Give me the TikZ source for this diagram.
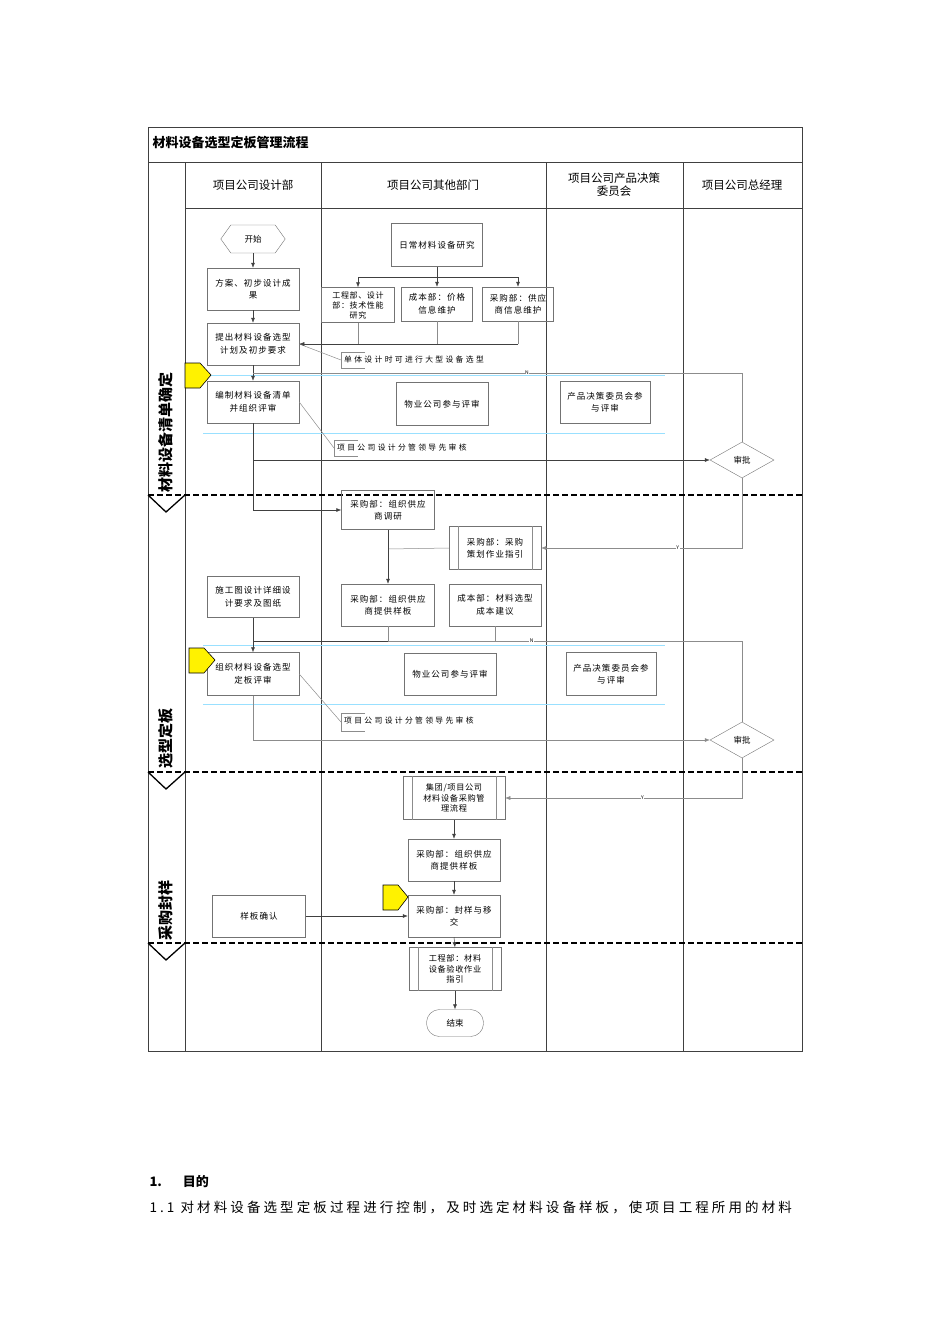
\documentclass[tikz,border=0pt]{standalone}
\usepackage{fontspec}
\setmainfont{Noto Sans CJK SC}
\usetikzlibrary{arrows.meta,calc,shapes.geometric}
\begin{document}
\begin{tikzpicture}[x=1pt,y=-1pt,
  box/.style={draw=black!55,line width=0.5pt,minimum width=92pt,minimum height=42pt,align=center,font=\fontsize{8.5}{12.5}\selectfont\addfontfeature{LetterSpace=12},inner sep=1pt},
  callout/.style={font=\fontsize{7.8}{9}\selectfont\addfontfeature{LetterSpace=30},anchor=west,inner sep=1pt},
  ln/.style={draw=black!75,line width=0.5pt},
  gl/.style={draw=black!45,line width=0.5pt},
  arr/.style={-{Latex[length=5pt,width=4pt]}},
  hdr/.style={font=\fontsize{11.5}{13}\selectfont,align=center},
  lane/.style={font=\bfseries\fontsize{15}{15}\selectfont,rotate=90},
  bline/.style={draw=blue!30!cyan!40,line width=0.6pt},
  sep/.style={draw=black,line width=2pt,dash pattern=on 6pt off 3pt},
  ymark/.style={fill=yellow,draw=black,line width=0.6pt},
  chev/.style={draw=black,line width=1.3pt},
  yn/.style={fill=white,inner sep=0.5pt,font=\fontsize{5}{5}\selectfont}]
\useasboundingbox (0,0) rectangle (950,1344);
% frame
\draw[ln] (148,127) rectangle (802,1051);
\draw[ln] (148,162) -- (802,162);
\draw[ln] (185,208) -- (802,208);
\foreach \x in {185,321,546,683} \draw[ln] (\x,162) -- (\x,1051);
\node[anchor=west,font=\bfseries\fontsize{13}{14}\selectfont] (title) at (149,143) {材料设备选型定板管理流程};
\node[hdr] (h1) at (253,185) {项目公司设计部};
\node[hdr] (h2) at (433,185) {项目公司其他部门};
\node[hdr] (h3) at (614,185) {项目公司产品决策\\委员会};
\node[hdr] (h4) at (742,185) {项目公司总经理};
% lanes
\node[lane] (l1) at (166,432) {材料设备清单确定};
\node[lane] (l2) at (166,738) {选型定板};
\node[lane] (l3) at (166,910) {采购封样};
\foreach \y in {495,772,943} {
  \draw[sep] (148,\y) -- (802,\y);
  \draw[chev] (148,\y) -- (166,\y+17) -- (185,\y);
}
% blue lines
\draw[bline] (203,375) -- (665,375);
\draw[bline] (203,433) -- (665,433);
\draw[bline] (203,645) -- (665,645);
\draw[bline] (203,704) -- (665,704);
% nodes
\node[minimum width=64pt,minimum height=28pt,font=\fontsize{8.5}{9}\selectfont] (start) at (253,239) {开始};
\draw[draw=black!55] (start.west) -- ++(10,-14) -- ($(start.east)+(-10,-14)$) -- (start.east) -- ++(-10,14) -- ($(start.west)+(10,14)$) -- cycle;
\node[box] (n1) at (253,289) {方案、初步设计成\\果};
\node[box] (n2) at (253,344) {提出材料设备选型\\计划及初步要求};
\node[box,minimum width=91pt,minimum height=43pt] (n3) at (437,245) {日常材料设备研究};
\node[box,minimum width=73pt,minimum height=35pt,font=\fontsize{8}{10}\selectfont\addfontfeature{LetterSpace=8}] (n4) at (358,305) {工程部、设计\\部：技术性能\\研究};
\node[box,minimum width=71pt,minimum height=34pt] (n5) at (437,304) {成本部：价格\\信息维护};
\node[box,minimum width=71pt,minimum height=34pt] (n6) at (518,304) {采购部：供应\\商信息维护};
\node[box] (n7) at (253,402) {编制材料设备清单\\并组织评审};
\node[box,minimum height=43pt] (n8) at (442,404) {物业公司参与评审};
\node[box,minimum width=90pt] (n9) at (605,402) {产品决策委员会参\\与评审};
\node[draw=black!55,diamond,aspect=1.8,minimum width=64pt,minimum height=36pt,inner sep=0pt,font=\fontsize{8.5}{9}\selectfont] (d1) at (742,460) {审批};
\node[box,minimum width=93pt,minimum height=39pt] (n10) at (388,510) {采购部：组织供应\\商调研};
\node[box,minimum height=43pt] (n11) at (495,548) {采购部：采购\\策划作业指引};
\node[box,minimum width=93pt] (n12) at (388,605) {采购部：组织供应\\商提供样板};
\node[box] (n13) at (495,605) {成本部：材料选型\\成本建议};
\node[box,minimum height=41pt] (n14) at (253,597) {施工图设计详细设\\计要求及图纸};
\node[box,minimum height=43pt] (n15) at (253,674) {组织材料设备选型\\定板评审};
\node[box,minimum height=42pt] (n16) at (450,674) {物业公司参与评审};
\node[box,minimum width=90pt,minimum height=43pt] (n17) at (611,674) {产品决策委员会参\\与评审};
\node[draw=black!55,diamond,aspect=1.8,minimum width=64pt,minimum height=36pt,inner sep=0pt,font=\fontsize{8.5}{9}\selectfont] (d2) at (742,740) {审批};
\node[box,minimum width=102pt,minimum height=43pt,font=\fontsize{8.2}{10.5}\selectfont\addfontfeature{LetterSpace=8}] (n18) at (454,798) {集团/项目公司\\材料设备采购管\\理流程};
\node[box] (n19) at (454,860) {采购部：组织供应\\商提供样板};
\node[box] (n20) at (454,916) {采购部：封样与移\\交};
\node[box,minimum width=93pt] (n21) at (259,916) {样板确认};
\node[box,minimum height=43pt,font=\fontsize{8.2}{10.5}\selectfont\addfontfeature{LetterSpace=8}] (n22) at (455,969) {工程部：材料\\设备验收作业\\指引};
\node[draw=black!55,rounded corners=13pt,minimum width=57pt,minimum height=27pt,font=\fontsize{8.5}{9}\selectfont] (end) at (455,1023) {结束};
% subprocess side lines
\foreach \n in {n11,n18,n22} {
  \draw[gl] ($(\n.north west)+(9,0)$) -- ($(\n.south west)+(9,0)$);
  \draw[gl] ($(\n.north east)+(-9,0)$) -- ($(\n.south east)+(-9,0)$);
}
% yellow markers
\draw[ymark] (185,363) -- (200,363) -- (211,375) -- (200,388) -- (185,388) -- cycle;
\draw[ymark] (189,648) -- (204,648) -- (215,660) -- (204,673) -- (189,673) -- cycle;
\draw[ymark] (383,885) -- (398,885) -- (408,897) -- (398,910) -- (383,910) -- cycle;
% callouts
\node[callout] (c1) at (343,360) {单体设计时可进行大型设备选型};
\draw[gl] (365,352) -- (341,352) -- (341,368) -- (365,368);
\draw[gl] (341,360) -- (n2.east);
\node[callout] (c2) at (336,448) {项目公司设计分管领导先审核};
\draw[gl] (358,440) -- (334,440) -- (334,456) -- (358,456);
\draw[gl] (n7.east) -- (334,448);
\node[callout] (c3) at (343,721) {项目公司设计分管领导先审核};
\draw[gl] (365,713) -- (341,713) -- (341,731) -- (365,731);
\draw[gl] (n15.east) -- (341,722);
% connectors
\draw[ln,arr] (start.south) -- (n1.north);
\draw[ln,arr] (n1.south) -- (n2.north);
\draw[ln,arr] (n2.south) -- (n7.north);
\draw[ln] (n3.south) -- (437,277);
\draw[ln] (358,277) -- (518,277);
\draw[ln,arr] (437,277) -- (n5.north);
\draw[ln,arr] (358,277) -- (n4.north);
\draw[ln,arr] (518,277) -- (n6.north);
\draw[gl] (n4.south) -- (358,344);
\draw[gl] (n5.south) -- (437,344);
\draw[gl] (n6.south) -- (518,344);
\draw[ln,arr] (518,344) -- (n2.east);
\draw[gl] (d1.north) -- (742,373) -- node[pos=0.44,yn]{N} (253,373);
\draw[ln,arr] (n7.south) |- (d1.west);
\draw[ln,arr] (253,460) |- (n10.west);
\draw[gl,arr] (d1.south) |- node[pos=0.66,yn]{Y} (n11.east);
\draw[gl] (n11.west) -- (388,549);
\draw[ln,arr] (n10.south) -- (n12.north);
\draw[gl] (n12.south) -- (388,641);
\draw[gl] (n13.south) -- (495,641);
\draw[gl] (d2.north) -- (742,641) -- node[pos=0.43,yn]{N} (253,641);
\draw[ln] (388,641) -- (253,641);
\draw[ln,arr] (n14.south) -- (n15.north);
\draw[gl,arr] (n15.south) |- (d2.west);
\draw[gl,arr] (d2.south) |- node[pos=0.71,yn]{Y} (n18.east);
\draw[ln,arr] (n18.south) -- (n19.north);
\draw[ln,arr] (n19.south) -- (n20.north);
\draw[ln,arr] (n21.east) -- (n20.west);
\draw[ln,arr] (n20.south) -- (n22.north);
\draw[ln,arr] (n22.south) -- (end.north);
% footer
\node[anchor=west,font=\bfseries\fontsize{13}{14}\selectfont] (f1) at (146,1182) {1.\hspace{1.6em}目的};
\node[anchor=west,font=\fontsize{13.5}{15}\selectfont\addfontfeature{LetterSpace=23}] (f2) at (146,1207) {1.1 对材料设备选型定板过程进行控制，及时选定材料设备样板，使项目工程所用的材料};
\end{tikzpicture}
\end{document}
